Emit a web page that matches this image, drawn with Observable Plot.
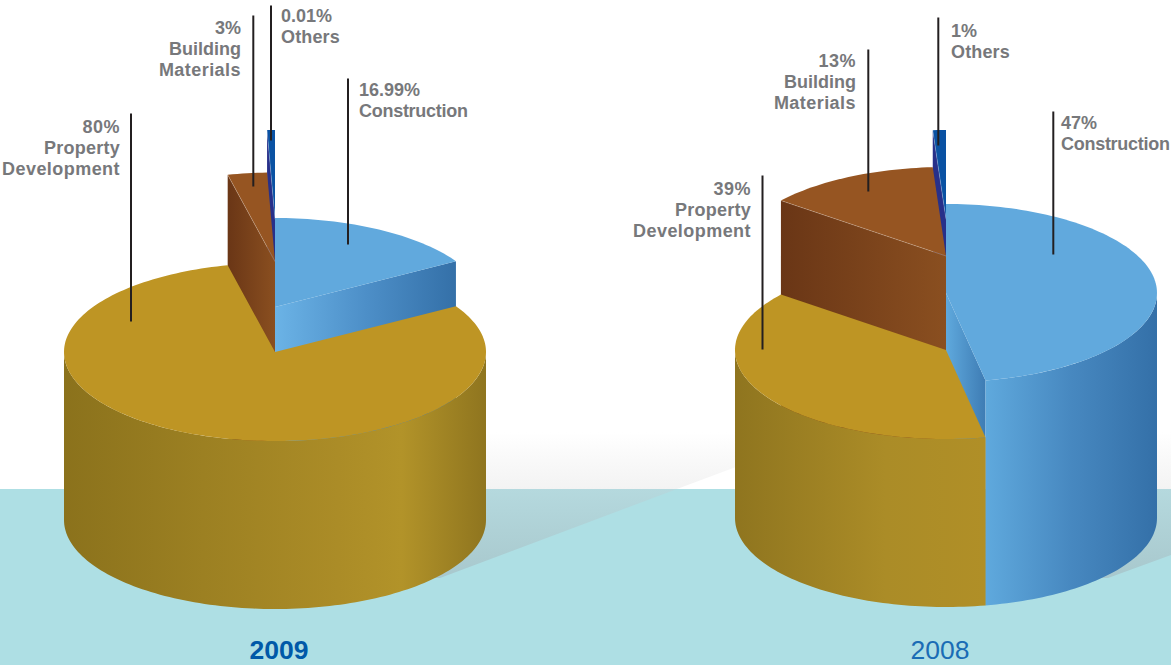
<!DOCTYPE html>
<html>
<head>
<meta charset="utf-8">
<script src="https://cdn.jsdelivr.net/npm/d3@7"></script>
<script src="https://cdn.jsdelivr.net/npm/@observablehq/plot@0.6"></script>
<style>
html,body{margin:0;padding:0;background:#fff;overflow:hidden}
svg{display:block}
</style>
</head>
<body>
<div id="chart"></div>
<script>
// ---- data ----
const categories = ["Construction", "Property Development", "Building Materials", "Others"];
const labels2009 = ["16.99%", "80%", "3%", "0.01%"];
const labels2008 = ["47%", "39%", "13%", "1%"];
// share of the circle each slice occupies as drawn, clockwise from 12 o'clock
const drawn2009 = [16.4, 80, 3, 0.6];
const drawn2008 = [47, 38.7, 13.3, 1];
// how far each slice is raised above the base cylinder
const lift2009 = [45, 0, 90.5, 133];
const lift2008 = [57, 0, 94, 131];

// ---- layout and style ----
const W = 1171, H = 665;
const rx = 211, ry = 89, depth = 168;
const center2009 = [275, 352], center2008 = [946, 350];
const cutEdge = ["end", null, "start", "start"];
const topColor = ["#61a9dd", "#be9524", "#965522", "#0a52a3"];
const wallIds2009 = ["blue09", "gold09", "brown", "navy"];
const wallIds2008 = ["blue08", "gold08", "brown", "navy"];
const cutIds2009 = ["blueCut09", null, "brownCut", "navyCut"];
const cutIds2008 = ["blueCut08", null, "brownCut", "navyCut"];
const gradients = {
  blue09: [[0, "#5fa9dd"], [1, "#3470a8"]],
  blue08: [[0, "#5fa9dd"], [0.5, "#4788c0"], [1, "#3470a8"]],
  blueCut09: [[0, "#6bb3e6"], [0.5, "#4d8fc8"], [1, "#3470a8"]],
  blueCut08: [[0, "#5fa9dd"], [1, "#3e7cb4"]],
  gold09: [[0, "#8b721c"], [0.33, "#9c8022"], [0.65, "#ab8c27"], [0.8, "#b29329"], [1, "#8f751f"]],
  gold08: [[0, "#8f751f"], [0.6, "#ab8c27"], [1, "#b08f27"]],
  brown: [[0, "#6a3616"], [1, "#8a4f20"]],
  brownCut: [[0, "#6a3616"], [1, "#8a4f20"]],
  navy: [[0, "#27308a"], [1, "#27308a"]],
  navyCut: [[0, "#27308a"], [1, "#27308a"]]
};
const vGradients = {
  fade: [[0, "#ffffff"], [1, "#f3f3f3"]],
  shade: [[0, "#b5d9de"], [1, "#a8c8cd"]]
};
const floorTop = 489, floorColor = "#aedfe4";
const shadowTop = [[300, 432], [830, 432], [677, 489], [300, 489]];
const shadowBottom = [[300, 489], [677, 489], [440, 578], [300, 578]];
const shadowTopR = [[1080, 432], [1171, 432], [1171, 489], [1080, 489]];
const shadowBottomR = [[1080, 489], [1171, 489], [1171, 555], [1108, 578], [1080, 578]];

const leaders = [
  {x: 131, y1: 114, y2: 322}, {x: 253.3, y1: 16, y2: 187}, {x: 271, y1: 6, y2: 141}, {x: 348, y1: 79, y2: 245},
  {x: 762.5, y1: 176, y2: 350}, {x: 868.3, y1: 50, y2: 192}, {x: 938.3, y1: 18, y2: 146}, {x: 1053.3, y1: 112, y2: 255}
];
const multiline = {"Property Development": ["Property", "Development"], "Building Materials": ["Building", "Materials"]};
const labelPos2009 = [[359, 116.5, "start"], [120, 174.5, "end"], [241, 75.5, "end"], [281, 42.5, "start"]];
const labelPos2008 = [[1061, 149.5, "start"], [751, 236.5, "end"], [856, 108.5, "end"], [951, 57.5, "start"]];
const lineStep = 21;
const tracking = {Materials: "0.45px", Development: "0.45px", Property: "0.25px", Construction: "-0.28px", Others: "0.15px", "80%": "0.5px", "39%": "0.5px", "13%": "0.5px"};
const years = [
  {text: "2009", x: 279, y: 659, weight: "bold", color: "#0059a8"},
  {text: "2008", x: 940, y: 659, weight: "normal", color: "#1a6cb5"}
];
const font = "Liberation Sans, Arial, sans-serif";

// ---- geometry: each slice derives from its drawn share ----
function slices(center, drawn, lift, wallIds, cutIds) {
  let a = -90;
  return drawn.map((d, i) => {
    const a0 = a, a1 = a + d * 3.6;
    a = a1;
    const cx = center[0], cy = center[1] - lift[i];
    const pt = (t) => [cx + rx * Math.cos(t * Math.PI / 180), cy + ry * Math.sin(t * Math.PI / 180)];
    const arc = (s, e) => {
      const n = Math.max(2, Math.ceil(Math.abs(e - s) / 1.5));
      return d3.range(n + 1).map(k => pt(s + (e - s) * k / n));
    };
    const top = [[cx, cy], ...arc(a0, a1)];
    const bottom = center[1] + depth - cy; // wall reaches the shared base
    const walls = [];
    // outer wall: the part of the rim facing the viewer (0..180 deg, also +360)
    for (const off of [0, 360]) {
      const s = Math.max(a0, off), e = Math.min(a1, off + 180);
      if (e > s) {
        const r = arc(s, e);
        walls.push({pts: [...r, ...r.slice().reverse().map(p => [p[0], p[1] + bottom])], fill: wallIds[i]});
      }
    }
    let cut = null, edge = null;
    if (cutEdge[i]) {
      const p = pt(cutEdge[i] === "end" ? a1 : a0);
      cut = {pts: [[cx, cy], p, [p[0], p[1] + bottom], [cx, cy + bottom]], fill: cutIds[i]};
      edge = [[cx, cy], p];
    }
    return {top, walls, cut, edge, color: topColor[i]};
  });
}

const poly = (pts, fill) => Plot.line(pts, {x: d => d[0], y: d => d[1], fill, stroke: "none"});

function pieMarks(list) {
  const marks = [];
  // back to front: Others, Building Materials, Construction, Property Development
  for (const i of [3, 2, 0, 1]) {
    const s = list[i];
    if (s.cut) marks.push(poly(s.cut.pts, `url(#${s.cut.fill})`));
    for (const w of s.walls) marks.push(poly(w.pts, `url(#${w.fill})`));
    marks.push(poly(s.top, s.color));
    if (s.edge && i !== 0) marks.push(Plot.line(s.edge, {x: d => d[0], y: d => d[1], stroke: "#ffffff", strokeOpacity: 0.22, strokeWidth: 1}));
  }
  return marks;
}

const defs = () => {
  const g = d3.create("svg:defs");
  const add = (id, stops, vertical) => {
    const lg = g.append("linearGradient").attr("id", id)
      .attr("x1", 0).attr("y1", 0).attr("x2", vertical ? 0 : 1).attr("y2", vertical ? 1 : 0);
    for (const [o, c] of stops) lg.append("stop").attr("offset", o).attr("stop-color", c);
  };
  for (const id in gradients) add(id, gradients[id], false);
  for (const id in vGradients) add(id, vGradients[id], true);
  return g.node();
};

const labelRows = (vals, pos) => categories.flatMap((c, i) => {
  const lines = [vals[i], ...(multiline[c] || [c])];
  return lines.map((text, k) => ({
    text, x: pos[i][0], y: pos[i][1] - (lines.length - 1 - k) * lineStep, anchor: pos[i][2]
  }));
});
const rows = [...labelRows(labels2009, labelPos2009), ...labelRows(labels2008, labelPos2008)];

const chart = Plot.plot({
  width: W, height: H, margin: 0,
  style: {background: "#ffffff"},
  x: {domain: [0, W], range: [-0.5, W - 0.5], axis: null},
  y: {domain: [0, H], range: [-0.5, H - 0.5], axis: null},
  marks: [
    defs,
    poly(shadowTop, "url(#fade)"),
    poly(shadowTopR, "url(#fade)"),
    poly([[0, floorTop], [W, floorTop], [W, H], [0, H]], floorColor),
    poly(shadowBottom, "url(#shade)"),
    poly(shadowBottomR, "url(#shade)"),
    ...pieMarks(slices(center2009, drawn2009, lift2009, wallIds2009, cutIds2009)),
    ...pieMarks(slices(center2008, drawn2008, lift2008, wallIds2008, cutIds2008)),
    Plot.ruleX(leaders, {x: "x", y1: "y1", y2: "y2", stroke: "#231f20", strokeWidth: 2}),
    ...rows.map(d => Plot.text([d], {
      x: "x", y: "y", text: "text", textAnchor: d.anchor, lineAnchor: "bottom",
      fontSize: 18, fontWeight: "bold", fontFamily: font, fill: "#77787b"
    })),
    ...years.map(d => Plot.text([d], {
      x: "x", y: "y", text: "text", lineAnchor: "bottom", fontSize: 26.5,
      fontWeight: d.weight, fontFamily: font, fill: d.color
    }))
  ]
});
// per-word tracking to match the reference's narrower/wider typeface
d3.select(chart).selectAll("text").each(function () {
  const t = tracking[this.textContent.trim()];
  if (t) this.style.letterSpacing = t;
});
document.getElementById("chart").appendChild(chart);
</script>
</body>
</html>
